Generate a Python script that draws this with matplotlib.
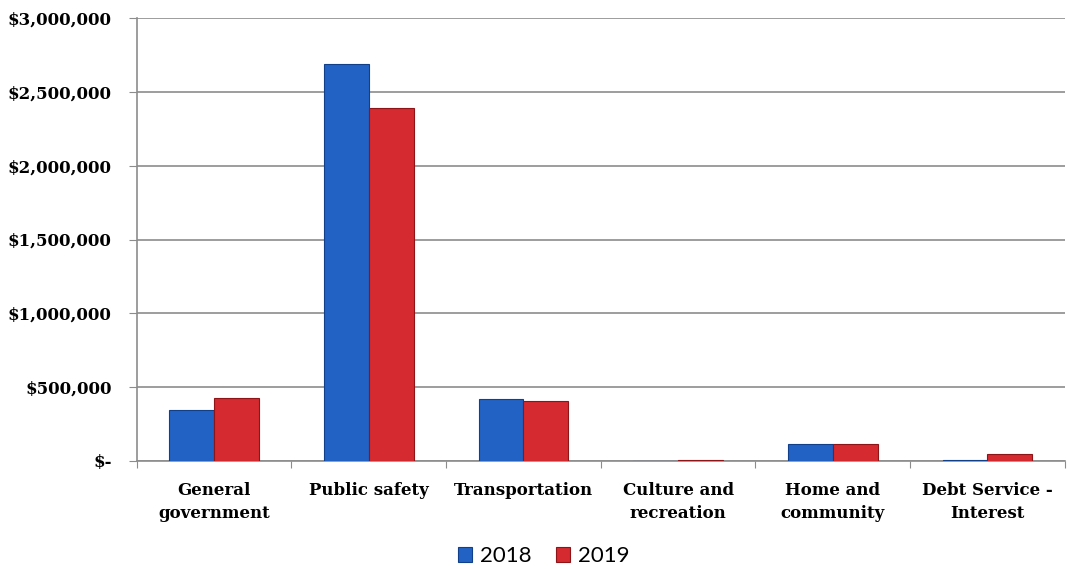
import matplotlib
matplotlib.use('Agg')
import matplotlib.pyplot as plt
import numpy as np

categories = ['General\ngovernment', 'Public safety', 'Transportation',
              'Culture and\nrecreation', 'Home and\ncommunity', 'Debt Service -\nInterest']
v2018 = [345000, 2688000, 420000, 1000, 115000, 4000]
v2019 = [427000, 2390000, 406000, 4000, 115000, 45000]
yticks = [0, 500000, 1000000, 1500000, 2000000, 2500000, 3000000]
ylabels = ['$-', '$500,000', '$1,000,000', '$1,500,000', '$2,000,000', '$2,500,000', '$3,000,000']

blue = '#2262c4'
red = '#d52a30'

fig = plt.figure(figsize=(10.68, 5.69), dpi=100)
ax = fig.add_axes([0.128, 0.19, 0.869, 0.778])

x = np.arange(len(categories))
w = 0.29
ax.bar(x - w / 2, v2018, w, color=blue, edgecolor='#123f8a', linewidth=0.8, label='2018', zorder=3)
ax.bar(x + w / 2, v2019, w, color=red, edgecolor='#8f1418', linewidth=0.8, label='2019', zorder=3)

ax.set_xlim(-0.5, len(categories) - 0.5)
ax.set_ylim(0, 3000000)
ax.set_yticks(yticks)
ax.set_yticklabels(ylabels, family='DejaVu Serif', fontweight='bold', fontsize=12)
ax.yaxis.grid(True, color='#8c8c8c', linewidth=1.2, zorder=0)

ax.set_xticks(np.arange(len(categories) + 1) - 0.5)
ax.set_xticklabels([])
ax.set_xticks(x, minor=True)
ax.set_xticklabels(categories, minor=True, family='DejaVu Serif', fontweight='bold', fontsize=12,
                   linespacing=1.45, va='top')
ax.tick_params(axis='x', which='minor', length=0, pad=15)
ax.tick_params(axis='x', which='major', length=5, color='#8c8c8c')
ax.tick_params(axis='y', length=6, color='#8c8c8c', pad=12)

for s in ['top', 'right']:
    ax.spines[s].set_visible(False)
ax.spines['left'].set_color('#8c8c8c')
ax.spines['bottom'].set_color('#8c8c8c')
ax.spines['left'].set_linewidth(1.2)
ax.spines['bottom'].set_linewidth(1.2)

leg = fig.legend(loc='lower center', bbox_to_anchor=(0.509, -0.03), ncol=2, frameon=False,
                 prop={'family': 'Lato', 'size': 16}, handlelength=0.65, handleheight=0.65,
                 handletextpad=0.35, columnspacing=1.1)

fig.savefig('out.png', dpi=100)
